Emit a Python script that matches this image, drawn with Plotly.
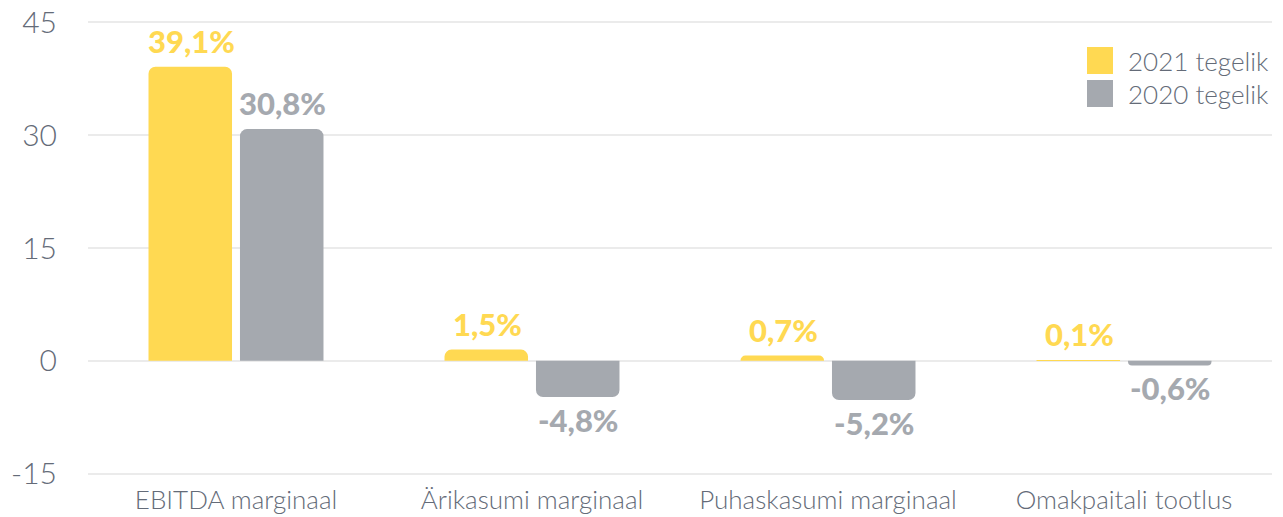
import plotly.graph_objects as go

categories = ["EBITDA marginaal", "Ärikasumi marginaal", "Puhaskasumi marginaal", "Omakpaitali tootlus"]
values_2021 = [39.1, 1.5, 0.7, 0.1]
values_2020 = [30.8, -4.8, -5.2, -0.6]
series_names = ["2021 tegelik", "2020 tegelik"]
tick_vals = [-15, 0, 15, 30, 45]
tick_text = ["-15", "0", "15", "30", "45"]

YELLOW = "#FFD952"
GRAY = "#A5A9AF"
TEXT = "#646B78"
GRID = "#EBEBEB"

PL, PR, PT, PB = 88, 11, 20, 41
PW = 1283 - PL - PR
PH = 517 - PT - PB

fig = go.Figure()
for name, vals, col in [(series_names[0], values_2021, YELLOW), (series_names[1], values_2020, GRAY)]:
    fig.add_trace(go.Bar(x=categories, y=vals, name=name, marker=dict(color=col, line=dict(width=0), cornerradius=7),
                         showlegend=False, hoverinfo="skip"))

annotations = []
for vals, col, shift in [(values_2021, YELLOW, -45), (values_2020, GRAY, 46)]:
    for c, v in zip(categories, vals):
        pos = v >= 0
        annotations.append(dict(
            x=c, y=v, xref="x", yref="y", xshift=shift,
            yshift=5 if pos else -2, yanchor="bottom" if pos else "top",
            text=f"{v:.1f}%".replace(".", ","), showarrow=False,
            font=dict(family="Lato", size=31, color=col, weight=900)))

# legend (manual)
for i, (name, col) in enumerate(zip(series_names, [YELLOW, GRAY])):
    top = 47 + i * 33
    fig.add_shape(type="rect", xref="paper", yref="paper", x0=(1087 - PL) / PW, x1=(1113 - PL) / PW,
                  y0=1 - (top + 27 - PT) / PH, y1=1 - (top - PT) / PH, fillcolor=col, line=dict(width=0))
    annotations.append(dict(xref="paper", yref="paper", x=(1126 - PL) / PW, y=1 - (top + 14 - PT) / PH,
                            xanchor="left", yanchor="middle", text=name, showarrow=False,
                            font=dict(family="Lato", size=26, color=TEXT, weight=300)))

fig.update_layout(
    width=1283, height=517,
    margin=dict(l=PL, r=PR, t=PT, b=PB, autoexpand=False),
    paper_bgcolor="white", plot_bgcolor="white",
    barmode="group", bargap=0.382, bargroupgap=0.087,
    annotations=annotations,
    font=dict(family="Lato", color=TEXT, weight=300),
    xaxis=dict(showgrid=False, showline=False, ticks="", automargin=False,
               tickfont=dict(size=26, color=TEXT, weight=300), ticklabelstandoff=6),
    yaxis=dict(range=[-15.3, 45.3], tickvals=tick_vals, ticktext=tick_text, automargin=False,
               showgrid=True, gridcolor=GRID, gridwidth=2,
               zeroline=True, zerolinecolor=GRID, zerolinewidth=2, showline=False, ticks="",
               tickfont=dict(size=30, color=TEXT, weight=300), ticklabelstandoff=30),
)
fig.write_html("out.html", config={"displayModeBar": False},
               post_script=["document.body.style.margin='0';document.body.style.overflow='hidden';"])
